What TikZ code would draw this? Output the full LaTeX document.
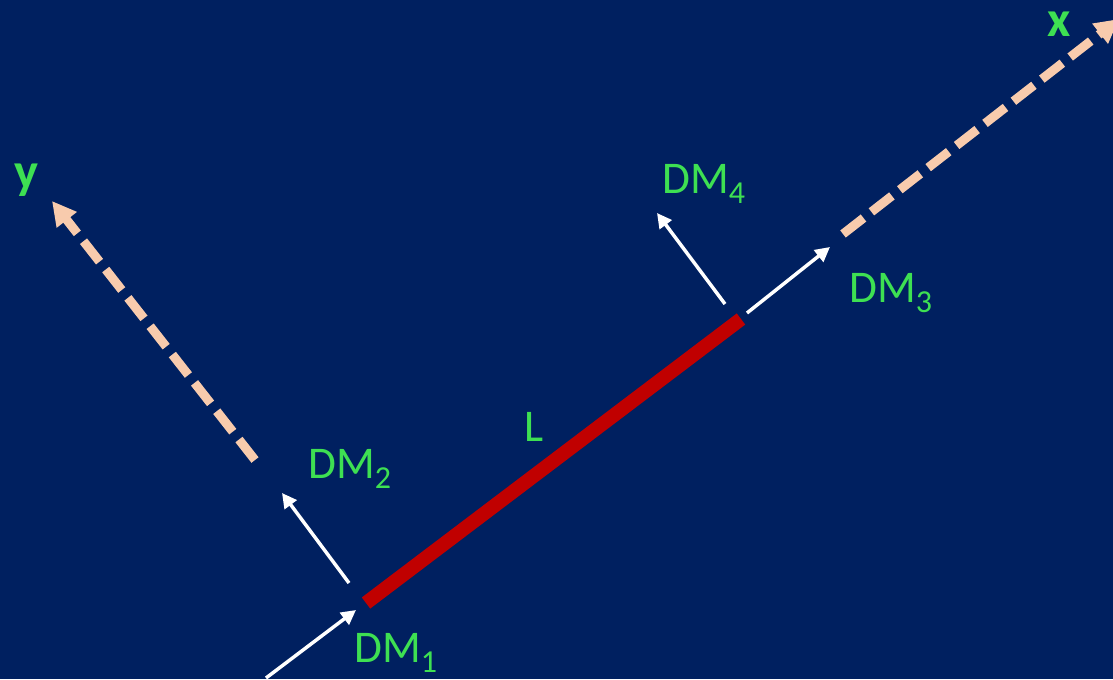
\documentclass[tikz,border=0pt]{standalone}
\usepackage{fontspec}
\setmainfont{Carlito}
\usetikzlibrary{arrows.meta}
\definecolor{bg}{HTML}{002060}
\definecolor{lblgreen}{HTML}{3EE052}
\definecolor{peach}{HTML}{F8CBAD}
\definecolor{barred}{HTML}{C00000}
\tikzset{
  axisline/.style={peach, line width=6.75pt, dash pattern=on 19.5pt off 7.5pt,
    -{Triangle[length=18pt,width=18pt]}},
  dmarrow/.style={white, line width=2.6pt, -{Triangle[length=11pt,width=11pt]}},
  lbl/.style={text=lblgreen, inner sep=0pt, anchor=base west, font=\fontsize{34}{40}\selectfont},
  axlbl/.style={text=lblgreen, inner sep=0pt, anchor=base west, font=\fontsize{38}{44}\selectfont\bfseries},
  bar/.style={barred, line width=10.5pt}
}
\newcommand{\dmsub}[1]{\raisebox{-0.5ex}{\fontsize{24}{28}\selectfont #1}}
\begin{document}
\begin{tikzpicture}[x=0.75pt,y=-0.75pt]
\fill[bg] (0,0) rectangle (1113,679);
\useasboundingbox (0,0) rectangle (1113,679);
% coordinates
\coordinate (barA) at (366,603);
\coordinate (barB) at (741,319);
\coordinate (yS) at (255,460);
\coordinate (yE) at (52,201);
\coordinate (xS) at (843,234);
\coordinate (xE) at (1119,19);
\coordinate (d1S) at (266,678);
\coordinate (d1E) at (356,610);
\coordinate (d2S) at (349,583);
\coordinate (d2E) at (282,493);
\coordinate (d3S) at (747,313);
\coordinate (d3E) at (830,247);
\coordinate (d4S) at (725,304);
\coordinate (d4E) at (657,213);
% bar
\draw[bar] (barA) -- (barB);
% axes
\draw[axisline] (yS) -- (yE);
\draw[axisline] (xS) -- (xE);
% arrows
\draw[dmarrow] (d1S) -- (d1E);
\draw[dmarrow] (d2S) -- (d2E);
\draw[dmarrow] (d3S) -- (d3E);
\draw[dmarrow] (d4S) -- (d4E);
% labels
\node[lbl] (DM1) at (354,662) {DM\dmsub{1}};
\node[lbl] (DM2) at (308,478) {DM\dmsub{2}};
\node[lbl] (DM3) at (849,302) {DM\dmsub{3}};
\node[lbl] (DM4) at (662,193) {DM\dmsub{4}};
\node[lbl] (L) at (524,441) {L};
\node[axlbl] (xl) at (1047,36) {x};
\node[axlbl] (yl) at (14,188) {y};
\end{tikzpicture}
\end{document}
